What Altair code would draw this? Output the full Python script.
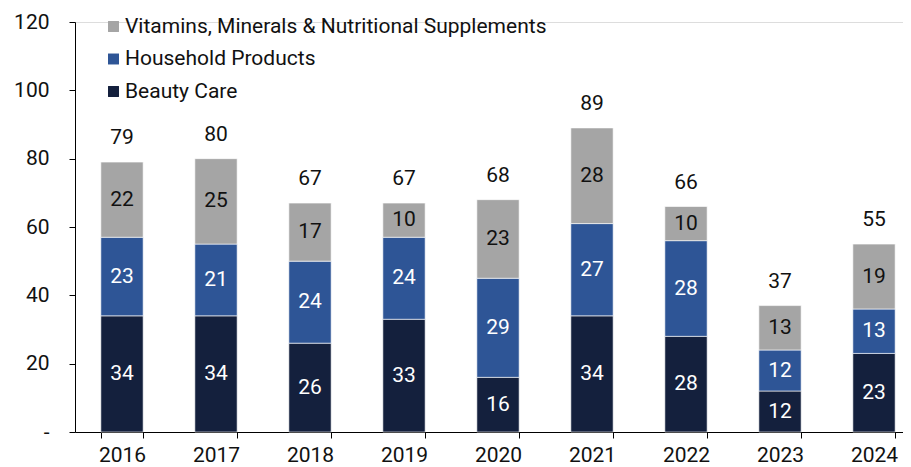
import altair as alt
import pandas as pd

years = ["2016", "2017", "2018", "2019", "2020", "2021", "2022", "2023", "2024"]
beauty = [34, 34, 26, 33, 16, 34, 28, 12, 23]
household = [23, 21, 24, 24, 29, 27, 28, 12, 13]
vitamins = [22, 25, 17, 10, 23, 28, 10, 13, 19]
totals = [79, 80, 67, 67, 68, 89, 66, 37, 55]

series = ["Vitamins, Minerals & Nutritional Supplements", "Household Products", "Beauty Care"]
colors = ["#A5A5A5", "#2E5596", "#14203D"]
stack_order = {"Beauty Care": 0, "Household Products": 1,
               "Vitamins, Minerals & Nutritional Supplements": 2}

rows = []
for i, y in enumerate(years):
    for name, vals in [("Beauty Care", beauty), ("Household Products", household),
                       ("Vitamins, Minerals & Nutritional Supplements", vitamins)]:
        rows.append({"year": y, "series": name, "value": vals[i], "ord": stack_order[name]})
df = pd.DataFrame(rows)
tot_df = pd.DataFrame({"year": years, "total": totals})

FONT = "Roboto"
FS = 21

x = alt.X("year:N", title=None, sort=years,
          scale=alt.Scale(paddingInner=0.55, paddingOuter=0.275, range=[0, 846]),
          axis=alt.Axis(labelAngle=0, labelFontSize=FS, labelColor="#111", labelPadding=6,
                        tickBand="extent", tickSize=6, tickColor="#000", domainColor="#000",
                        labelFont=FONT))
y = alt.Y("value:Q", title=None, stack="zero",
          scale=alt.Scale(domain=[0, 120], nice=False),
          axis=alt.Axis(values=[0, 20, 40, 60, 80, 100, 120], grid=False,
                        labelExpr="datum.value == 0 ? '-' : datum.label",
                        labelFontSize=FS, labelColor="#111", labelPadding=20, labelFont=FONT,
                        tickSize=6, tickColor="#000", domainColor="#000"))

bars = alt.Chart(df).mark_bar(stroke="white", strokeWidth=0.6).encode(
    x=x, y=y,
    color=alt.Color("series:N", sort=series,
                    scale=alt.Scale(domain=series, range=colors),
                    legend=alt.Legend(title=None, orient="none", legendX=28, legendY=-6,
                                      symbolType="square", symbolSize=120, symbolStrokeWidth=0,
                                      labelFontSize=FS, labelFont=FONT, labelColor="#111",
                                      rowPadding=10.5, padding=0, labelLimit=600, labelOffset=1)),
    order=alt.Order("ord:Q"),
)

seg_text = alt.Chart(df).transform_stack(
    stack="value", groupby=["year"], as_=["v0", "v1"], sort=[alt.SortField("ord")]
).transform_calculate(
    mid="(datum.v0 + datum.v1) / 2"
).mark_text(fontSize=FS, font=FONT, baseline="middle").encode(
    x=alt.X("year:N", sort=years),
    y=alt.Y("mid:Q"),
    text=alt.Text("value:Q"),
    color=alt.condition(alt.datum.series == "Vitamins, Minerals & Nutritional Supplements",
                        alt.value("#111"), alt.value("white")),
)

tot_text = alt.Chart(tot_df).mark_text(fontSize=FS, font=FONT, baseline="alphabetic", dy=-18,
                                       color="#111").encode(
    x=alt.X("year:N", sort=years),
    y=alt.Y("total:Q"),
    text=alt.Text("total:Q"),
)

chart = alt.layer(bars, seg_text, tot_text).properties(
    width=828, height=410,
    autosize=alt.AutoSizeParams(type="none"),
    padding={"left": 67, "top": 14, "right": 0, "bottom": 35},
).configure_view(stroke=None).configure(font=FONT)

chart.save("out.html", embed_options={"renderer": "svg", "actions": False})
